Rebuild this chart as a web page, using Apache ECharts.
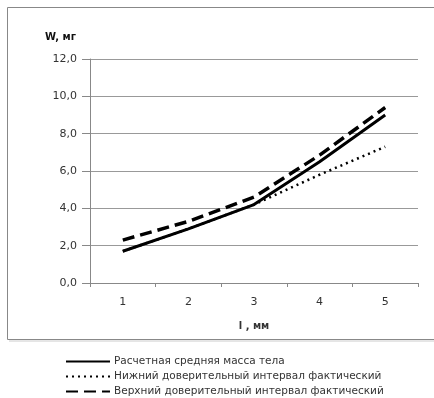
<!DOCTYPE html>
<html><head><meta charset="utf-8">
<script src="https://cdn.jsdelivr.net/npm/echarts@6/dist/echarts.min.js"></script>
<style>html,body{margin:0;padding:0;background:#fff}#c{width:434px;height:398px}</style>
</head><body><div id="c"></div>
<script>
const categories = ['1','2','3','4','5'];
const calcMean = [1.7, 2.9, 4.2, 6.5, 9.0];
const lowerCI = [1.7, 2.9, 4.2, 5.8, 7.3];
const upperCI = [2.3, 3.3, 4.6, 6.85, 9.4];
const seriesNames = ['Расчетная средняя масса тела','Нижний доверительный интервал фактический','Верхний доверительный интервал фактический'];

const chart = echarts.init(document.getElementById('c'), null, {renderer:'canvas'});
const font = 'Verdana, "DejaVu Sans", sans-serif';
chart.setOption({
  animation:false,
  graphic:[{type:'rect',shape:{x:7.5,y:7.5,width:440,height:332},style:{fill:'none',stroke:'#888',lineWidth:1},z:-1},
           {type:'line',shape:{x1:9,y1:341,x2:440,y2:341},style:{stroke:'#ccc',lineWidth:1},z:-1},
           {type:'text',left:45,top:32,style:{text:'W, мг',font:'bold 10px '+font,fill:'#111'}}],
  grid:{left:90,right:16,top:59,bottom:115,containLabel:false},
  legend:{orient:'vertical',left:60,top:351,height:60,itemWidth:44,itemHeight:8,itemGap:4,
    itemStyle:{opacity:0},
    textStyle:{fontSize:10.5,fontFamily:font,color:'#333',padding:[0,0,0,-1]},
    data:seriesNames},
  xAxis:{type:'category',data:categories,boundaryGap:true,
    name:'l , мм',nameLocation:'middle',nameGap:38,
    nameTextStyle:{fontSize:10,fontWeight:'bold',fontFamily:font,color:'#333'},
    axisLine:{lineStyle:{color:'#888'}},
    axisTick:{show:true,alignWithLabel:false,length:4,lineStyle:{color:'#888'}},
    axisLabel:{fontSize:11,fontFamily:font,color:'#333',margin:14}},
  yAxis:{type:'value',min:0,max:12,interval:2,
    axisLine:{show:true,lineStyle:{color:'#888'}},
    axisTick:{show:true,length:8,lineStyle:{color:'#888'}},
    splitLine:{lineStyle:{color:'#999'}},
    axisLabel:{fontSize:11,fontFamily:font,color:'#333',margin:13,formatter:v=>v.toFixed(1).replace('.',',')}},
  series:[
    {name:seriesNames[0],type:'line',data:calcMean,symbol:'none',z:3,lineStyle:{color:'#000',width:3,type:'solid'},itemStyle:{color:'#000'}},
    {name:seriesNames[1],type:'line',data:lowerCI,symbol:'none',z:2,lineStyle:{color:'#000',width:2.5,type:[2,4]},itemStyle:{color:'#000'}},
    {name:seriesNames[2],type:'line',data:upperCI,symbol:'none',z:2,lineStyle:{color:'#000',width:3.5,type:[12,6]},itemStyle:{color:'#000'}}
  ]
});
</script></body></html>
